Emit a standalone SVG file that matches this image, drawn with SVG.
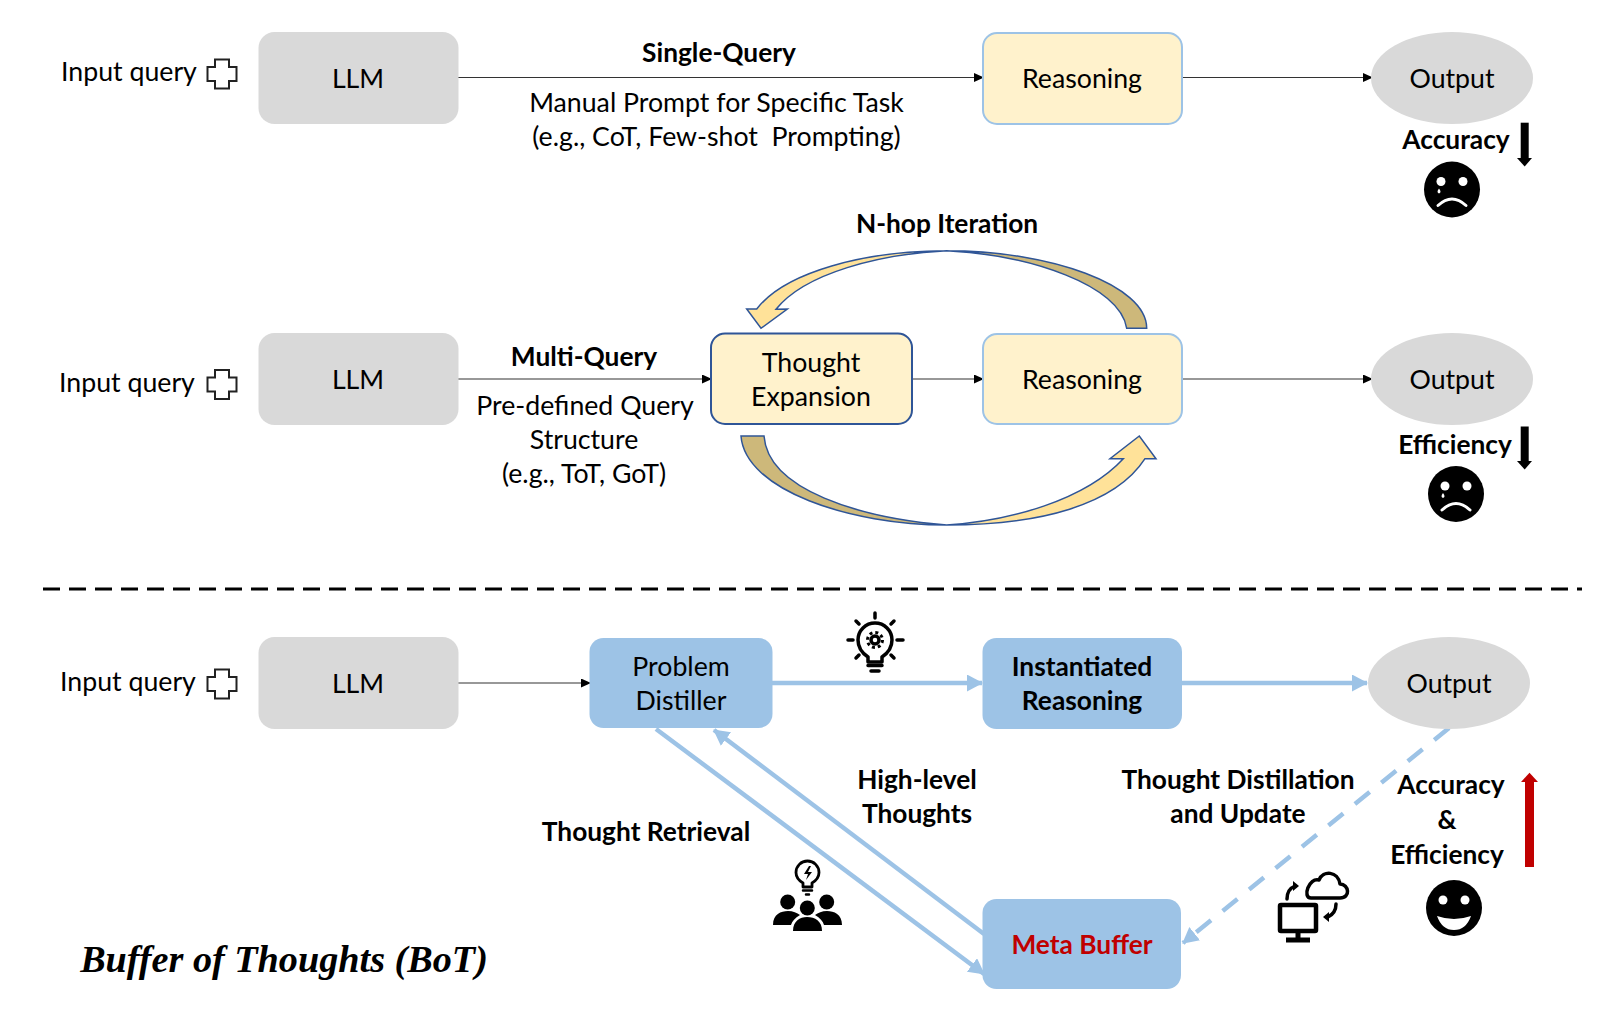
<svg xmlns="http://www.w3.org/2000/svg" width="1600" height="1009" viewBox="0 0 1600 1009">
<style>
text{font-family:"Lato","Carlito","Noto Sans",sans-serif;font-size:26.700px;fill:#000;text-anchor:middle}
.b{font-weight:700;font-size:26.300px}
.gray{fill:#d9d9d9}
.yel{fill:#fff2cc;stroke:#9dc3e6;stroke-width:2}
.blue{fill:#9dc3e6}
.ln{stroke:#333;stroke-width:1.200;fill:none}
.bl{stroke:#9dc3e6;stroke-width:4.500;fill:none}
.icon{fill:none;stroke:#000;stroke-width:3.500;stroke-linecap:round;stroke-linejoin:round}
.cross{fill:#fff;stroke:#222;stroke-width:2}
</style>
<defs>
<marker id="ah" markerWidth="10" markerHeight="10" refX="9" refY="4.500" orient="auto" markerUnits="userSpaceOnUse"><path d="M0 0L10 4.500L0 9Z" fill="#000"/></marker>
<marker id="bh" markerWidth="17" markerHeight="18" refX="15" refY="8.500" orient="auto" markerUnits="userSpaceOnUse"><path d="M0 0L16 8.500L0 17Z" fill="#9dc3e6"/></marker>
<linearGradient id="gt" gradientUnits="userSpaceOnUse" x1="746" y1="0" x2="1147" y2="0"><stop offset="0.5" stop-color="#ffe299"/><stop offset="0.5" stop-color="#cdb87a"/></linearGradient>
<linearGradient id="gb" gradientUnits="userSpaceOnUse" x1="741" y1="0" x2="1156" y2="0"><stop offset="0.5" stop-color="#cdb87a"/><stop offset="0.5" stop-color="#ffe299"/></linearGradient>
<path id="plus" d="M-7-14.500H7V-7H14.500V7H7V14.500H-7V7H-14.500V-7H-7Z"/>
<g id="face-base"><circle r="28" fill="#000"/><circle cx="-11" cy="-8" r="4.500" fill="#fff"/><circle cx="11" cy="-8" r="4.500" fill="#fff"/></g>
<g id="sad"><use href="#face-base"/><path d="M-14 16Q0 3 14 16" fill="none" stroke="#fff" stroke-width="3" stroke-linecap="round"/><path d="M-13-1q-3 4 0 5q3-1 0-5Z" fill="#fff"/></g>
</defs>
<rect width="1600" height="1009" fill="#fff"/>

<g id="connectors">
<path class="ln" marker-end="url(#ah)" d="M458 77.500H983"/>
<path class="ln" marker-end="url(#ah)" d="M1182 77.500H1372"/>
<path class="ln" marker-end="url(#ah)" d="M458 379H711"/>
<path class="ln" marker-end="url(#ah)" d="M912 379H983"/>
<path class="ln" marker-end="url(#ah)" d="M1182 379H1372"/>
<path class="ln" marker-end="url(#ah)" d="M458 683H590"/>
<path class="bl" marker-end="url(#bh)" d="M772 683H982"/>
<path class="bl" marker-end="url(#bh)" d="M1182 683H1367"/>
<path class="bl" marker-end="url(#bh)" d="M656 729L984 974"/>
<path class="bl" marker-end="url(#bh)" d="M984 934L714 730"/>
<path class="bl" marker-end="url(#bh)" stroke-dasharray="19 15" d="M1449 728L1183 943"/>
<path d="M43 589H1582" fill="none" stroke="#000" stroke-width="3" stroke-dasharray="17 9"/>
<path id="arrow-top" fill="url(#gt)" stroke="#2f5597" stroke-width="1.500" d="M1146.700 328.300H1126.700C1120 285 1030 255 946.700 250.700C880 254 805 273 776 309.300L787.300 309L761 328.300L746.700 309H756.700C785 272 865 250.700 946.700 250.700C1050 250.700 1146.700 285 1146.700 328.300Z"/>
<path id="arrow-bottom" fill="url(#gb)" stroke="#2f5597" stroke-width="1.500" d="M741 436H764C768 490 860 518 946.700 525C1010 521 1085 500 1123.300 458.700H1110L1139.300 436L1156 458.700H1145C1115 505 1040 525 946.700 525C850 525 745 490 741 436Z"/>
<path d="M1524.700 122.700V159" stroke="#000" stroke-width="8" fill="none"/>
<path d="M1517 158H1532L1524.700 166.500Z" fill="#000"/>
<path d="M1524.700 426.500V462" stroke="#000" stroke-width="8" fill="none"/>
<path d="M1517 461H1532L1524.700 469.500Z" fill="#000"/>
<path d="M1529.500 781V867" stroke="#c00000" stroke-width="9" fill="none"/>
<path d="M1521 782H1538L1529.500 772.700Z" fill="#c00000"/>
</g>

<g id="input1"><text x="129" y="81">Input query</text><use href="#plus" class="cross" transform="translate(222 74)"/></g>
<g id="llm1"><rect class="gray" x="258.500" y="32" width="200" height="92" rx="16"/><text x="358" y="88">LLM</text></g>
<g id="reasoning1"><rect class="yel" x="983" y="33" width="199" height="91" rx="14"/><text x="1082" y="88">Reasoning</text></g>
<g id="output1"><ellipse class="gray" cx="1452" cy="78" rx="81" ry="46"/><text x="1452" y="88">Output</text></g>
<g id="labels1"><text class="b" x="719" y="62">Single-Query</text><text x="716.500" y="112">Manual Prompt for Specific Task</text><text x="716.500" y="146" xml:space="preserve">(e.g., CoT, Few-shot  Prompting)</text></g>
<g id="status1"><text class="b" x="1456" y="149">Accuracy</text><use href="#sad" transform="translate(1452 189.500)"/></g>

<g id="input2"><text x="127" y="392">Input query</text><use href="#plus" class="cross" transform="translate(222 384.500)"/></g>
<g id="llm2"><rect class="gray" x="258.500" y="333" width="200" height="92" rx="16"/><text x="358" y="389">LLM</text></g>
<g id="expansion"><rect x="711" y="333.500" width="201" height="90.500" rx="14" fill="#fff2cc" stroke="#2f5597" stroke-width="2"/><text x="811" y="372">Thought</text><text x="811" y="406">Expansion</text></g>
<g id="reasoning2"><rect class="yel" x="983" y="334" width="199" height="90" rx="14"/><text x="1082" y="389">Reasoning</text></g>
<g id="output2"><ellipse class="gray" cx="1452" cy="379" rx="81" ry="46"/><text x="1452" y="389">Output</text></g>
<g id="labels2"><text class="b" x="947" y="233">N-hop Iteration</text><text class="b" x="584" y="366">Multi-Query</text><text x="585" y="415">Pre-defined Query</text><text x="584" y="449">Structure</text><text x="584" y="483">(e.g., ToT, GoT)</text></g>
<g id="status2"><text class="b" x="1455" y="454">Efficiency</text><use href="#sad" transform="translate(1456 494)"/></g>

<g id="input3"><text x="128" y="691">Input query</text><use href="#plus" class="cross" transform="translate(222 684)"/></g>
<g id="llm3"><rect class="gray" x="258.500" y="637" width="200" height="92" rx="16"/><text x="358" y="693">LLM</text></g>
<g id="distiller"><rect class="blue" x="589.500" y="638" width="183" height="90" rx="14"/><text x="681" y="676">Problem</text><text x="681" y="710">Distiller</text></g>
<g id="instantiated"><rect class="blue" x="982.500" y="638" width="199.500" height="91" rx="14"/><text class="b" x="1082" y="676">Instantiated</text><text class="b" x="1082" y="710">Reasoning</text></g>
<g id="output3"><ellipse class="gray" cx="1449" cy="683" rx="81" ry="46"/><text x="1449" y="693">Output</text></g>
<g id="metabuffer"><rect class="blue" x="982.500" y="899" width="198.500" height="90" rx="14"/><text class="b" x="1082" y="954" style="fill:#c00000">Meta Buffer</text></g>
<g id="labels3"><text class="b" x="917" y="789">High-level</text><text class="b" x="917" y="823">Thoughts</text><text class="b" x="646" y="841">Thought Retrieval</text><text class="b" x="1238" y="789">Thought Distillation</text><text class="b" x="1238" y="823">and Update</text></g>
<g id="status3"><text class="b" x="1451" y="794">Accuracy</text><text class="b" x="1447" y="829">&amp;</text><text class="b" x="1447" y="864">Efficiency</text><use href="#face-base" transform="translate(1454 908)"/><path d="M1437 916Q1454 922 1471 916Q1466 930 1454 930Q1442 930 1437 916Z" fill="#fff"/></g>
<text x="284" y="972" style="font-family:'Liberation Serif',serif;font-weight:700;font-style:italic;font-size:38.200px">Buffer of Thoughts (BoT)</text>

<g id="icon-bulb" class="icon">
<path d="M868 657V662H882V657C888 653 892 647 892 640A17 17 0 0 0 858 640C858 647 862 653 868 657Z"/>
<path d="M868 665.500H882M871 671H879" stroke-width="3.500"/>
<circle cx="875" cy="640" r="4" stroke-width="3.500"/><circle cx="875" cy="640" r="7.500" stroke-dasharray="3 2.900" stroke-width="3" stroke-linecap="butt"/>
<path d="M875 613V618M856 621L859 624M894 621L891 624M848 640H853M897 640H903M856 658L859 655M894 658L891 655"/>
</g>
<g id="icon-team">
<path class="icon" style="stroke-width:2.800" d="M803 887V883C798 880 796 876 796 872.500A11.500 11.500 0 0 1 819 872.500C819 876 817 880 812 883V887Z"/>
<path class="icon" style="stroke-width:2.500" d="M803 890.500H812M806 894.500H809"/>
<path d="M809 866L804 874H808L806 880L812 872H808L811 866Z"/>
<circle cx="787.700" cy="902" r="7.500"/><circle cx="826.700" cy="902" r="7.500"/><circle cx="807.300" cy="908" r="7.500"/>
<path d="M773 925C773 914 781 911 788 911C793 911 797 913 800 915C795 918 792 921 791 925Z"/>
<path d="M842 925C842 914 834 911 827 911C822 911 818 913 815 915C820 918 823 921 824 925Z"/>
<path d="M793 931C793 921 800 917 807 917C815 917 822 921 822 931Z"/>
</g>
<g id="icon-sync">
<path class="icon" d="M1311 898H1340C1351 898 1349 884 1340 884C1338 871 1323 870 1319 880C1309 877 1302 898 1311 898Z"/>
<rect x="1280" y="905" width="36" height="26" fill="none" stroke="#000" stroke-width="4.500" rx="1"/>
<path d="M1298 931V938M1286 940H1310" stroke="#000" stroke-width="5" fill="none"/>
<path class="icon" d="M1287 899C1287 893 1290 888 1295 886"/><path d="M1293 881L1299 886L1293 891Z"/>
<path class="icon" d="M1336 904C1336 911 1332 915 1328 917"/><path d="M1329 912L1323 917L1329 922Z"/>
</g>
</svg>
